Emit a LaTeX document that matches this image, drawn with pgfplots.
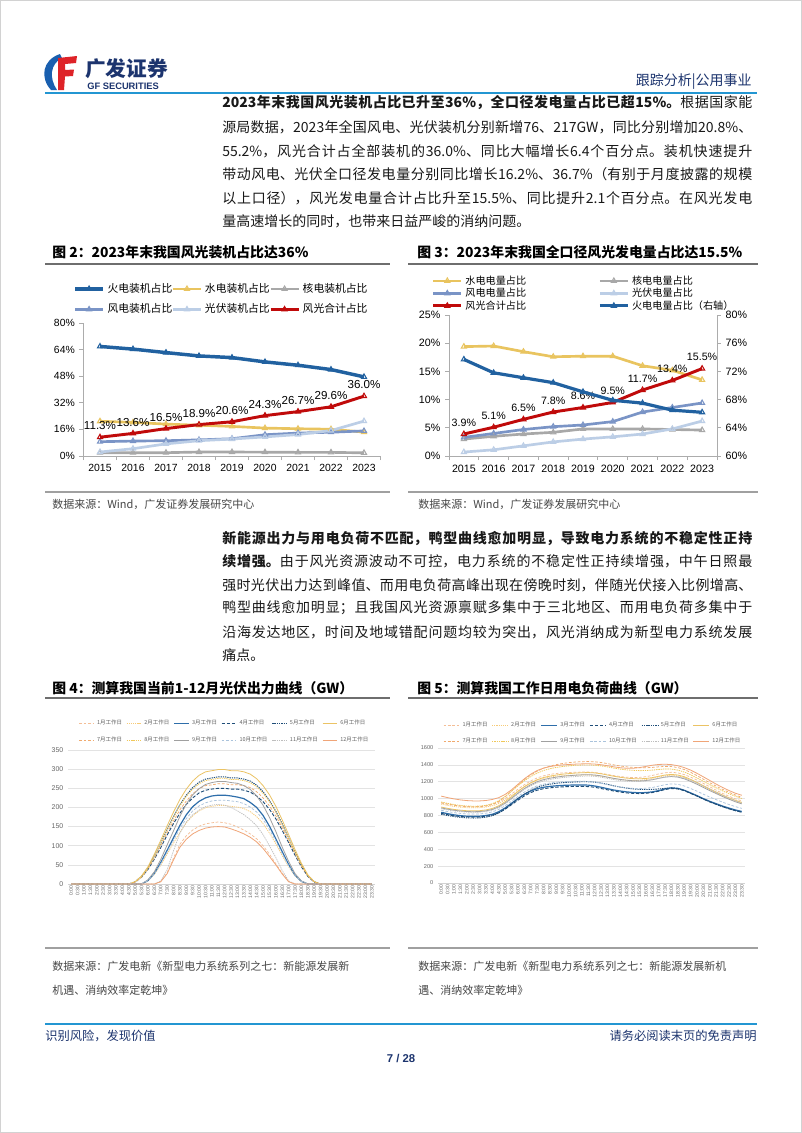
\documentclass[border=0pt]{standalone}
\usepackage{fontspec}
\usepackage{pgfplots}
\usepackage{pgfplotstable}
\pgfplotsset{compat=1.18}
\setmainfont{Noto Sans CJK SC}
\newfontfamily\arial{Liberation Sans}
\XeTeXlinebreaklocale "zh"
\XeTeXlinebreakskip=0pt plus 1.5pt minus 0.2pt

\definecolor{hdblue}{RGB}{35,150,210}
\definecolor{navy}{RGB}{28,52,110}
\definecolor{logored}{RGB}{222,35,40}
\definecolor{logoblue}{RGB}{25,95,175}
\definecolor{cFire}{RGB}{33,97,160}
\definecolor{cHydro}{RGB}{233,196,95}
\definecolor{cNuc}{RGB}{168,168,168}
\definecolor{cWind}{RGB}{122,148,198}
\definecolor{cSolar}{RGB}{188,206,230}
\definecolor{cRed}{RGB}{192,10,10}
\definecolor{txt}{RGB}{25,25,25}
\definecolor{srcgray}{RGB}{70,70,70}
\definecolor{sepgray}{RGB}{160,160,160}
\definecolor{ttlgray}{RGB}{110,110,110}
\definecolor{c1}{RGB}{244,190,150}
\definecolor{c2}{RGB}{247,203,120}
\definecolor{c3}{RGB}{46,110,170}
\definecolor{c4}{RGB}{31,78,121}
\definecolor{c5}{RGB}{31,78,121}
\definecolor{c6}{RGB}{235,195,100}
\definecolor{c7}{RGB}{240,170,110}
\definecolor{c8}{RGB}{240,200,90}
\definecolor{c9}{RGB}{160,160,160}
\definecolor{c10}{RGB}{170,195,220}
\definecolor{c11}{RGB}{190,190,190}
\definecolor{c12}{RGB}{240,165,120}

\pgfplotsset{
  /pgf/number format/assume math mode=true,
  /pgf/number format/1000 sep={},
  mA/.style={color=c1, line width=0.55pt, dash pattern=on 2pt off 1.3pt},
  mB/.style={color=c2, line width=0.55pt, dash pattern=on 0.9pt off 0.7pt},
  mC/.style={color=c3, line width=0.9pt},
  mD/.style={color=c4, line width=0.7pt, dash pattern=on 2.5pt off 1.3pt},
  mE/.style={color=c5, line width=0.7pt, dash pattern=on 1pt off 0.7pt},
  mF/.style={color=c6, line width=0.6pt},
  mG/.style={color=c7, line width=0.55pt, dash pattern=on 2pt off 1.3pt},
  mH/.style={color=c8, line width=0.6pt, dash pattern=on 1pt off 0.7pt},
  mI/.style={color=c9, line width=0.6pt},
  mJ/.style={color=c10, line width=0.55pt, dash pattern=on 2pt off 1.3pt},
  mK/.style={color=c11, line width=0.55pt, dash pattern=on 1pt off 0.7pt},
  mL/.style={color=c12, line width=0.6pt},
  timeticks/.style={xtick={0,...,47}, xticklabels={0:00,0:30,1:00,1:30,2:00,2:30,3:00,3:30,4:00,4:30,5:00,5:30,6:00,6:30,7:00,7:30,8:00,8:30,9:00,9:30,10:00,10:30,11:00,11:30,12:00,12:30,13:00,13:30,14:00,14:30,15:00,15:30,16:00,16:30,17:00,17:30,18:00,18:30,19:00,19:30,20:00,20:30,21:00,21:30,22:00,22:30,23:00,23:30}},
}

\newcommand\bodyfont{\fontsize{10.5pt}{12pt}\selectfont}
\newcommand\jline[1]{\parbox{397.5pt}{\bodyfont\tolerance=10000\hbadness=10000\parfillskip=0pt\relax #1}}

% PV output (GW), rows = months, columns = half hours
\pgfplotstableread{
m t0 t1 t2 t3 t4 t5 t6 t7 t8 t9 t10 t11 t12 t13 t14 t15 t16 t17 t18 t19 t20 t21 t22 t23 t24 t25 t26 t27 t28 t29 t30 t31 t32 t33 t34 t35 t36 t37 t38 t39 t40 t41 t42 t43 t44 t45 t46 t47
m1  0 0 0 0 0  0 0 0 0 0  0 0 0 0  6 29 68 104 126 141 151 157 160 162 160 156 149 141 131 118 100 78 53 28 6  0 0 0 0 0  0 0 0 0 0  0 0 0
m2  0 0 0 0 0  0 0 0 0 0  0 0  8 25 49 78 107 135 160 178 191 199 203 205 205 203 201 197 189 176 158 133 105 74 45 21 6  0 0 0 0 0  0 0 0 0 0  0
m3  0 0 0 0 0  0 0 0 0 0  0 0  9 28 56 88 121 153 181 202 216 225 230 232 232 230 227 223 213 200 179 151 118 84 51 23 7  0 0 0 0 0  0 0 0 0 0  0
m4  0 0 0 0 0  0 0 0 0 0  5 18 38 65 95 128 158 185 208 225 238 245 248 250 250 248 248 245 240 230 215 195 170 140 108 75 45 20 5  0 0 0 0 0  0 0 0 0
m5  0 0 0 0 0  0 0 0 0 0  6 20 42 73 106 143 176 207 232 252 266 274 277 280 280 277 277 274 269 258 241 218 190 157 120 84 50 22 6  0 0 0 0 0  0 0 0 0
m6  0 0 0 0 0  0 0 0 0 0  6 21 45 78 114 152 188 221 248 269 284 293 296 299 299 296 296 293 287 275 257 233 203 167 129 90 54 24 6  0 0 0 0 0  0 0 0 0
m7  0 0 0 0 0  0 0 0 0 0  5 18 39 68 100 134 165 194 217 236 249 257 259 262 262 259 259 257 252 241 225 204 178 147 113 79 47 21 5  0 0 0 0 0  0 0 0 0
m8  0 0 0 0 0  0 0 0 0 0  6 19 41 72 105 141 174 204 229 248 262 270 273 276 276 273 273 270 265 254 237 215 188 155 119 83 50 22 6  0 0 0 0 0  0 0 0 0
m9  0 0 0 0 0  0 0 0 0 0  0 0  11 32 64 102 139 177 209 233 249 260 265 268 268 265 263 257 247 230 206 174 137 96 59 27 8  0 0 0 0 0  0 0 0 0 0  0
m10 0 0 0 0 0  0 0 0 0 0  0 0  9 26 53 83 114 145 171 191 204 212 217 219 219 217 215 210 201 188 169 142 112 79 48 22 7  0 0 0 0 0  0 0 0 0 0  0
m11 0 0 0 0 0  0 0 0 0 0  0 0 0 0  8 37 87 133 162 181 193 202 206 208 206 200 191 181 168 152 129 100 69 35 8  0 0 0 0 0  0 0 0 0 0  0 0 0
m12 0 0 0 0 0  0 0 0 0 0  0 0 0 0  6 27 63 96 117 131 140 146 149 150 149 144 138 131 122 110 93 72 50 26 6  0 0 0 0 0  0 0 0 0 0  0 0 0
}\pvraw
\pgfplotstabletranspose[colnames from=m]\pvdata\pvraw

% Load (GW), rows = months, columns = half hours
\pgfplotstableread{
m t0 t1 t2 t3 t4 t5 t6 t7 t8 t9 t10 t11 t12 t13 t14 t15 t16 t17 t18 t19 t20 t21 t22 t23 t24 t25 t26 t27 t28 t29 t30 t31 t32 t33 t34 t35 t36 t37 t38 t39 t40 t41 t42 t43 t44 t45 t46 t47
m1  950 935 922 913 907 905 907 915 930 958 1000 1055 1112 1165 1210 1245 1270 1287 1298 1305 1310 1313 1315 1315 1310 1300 1287 1273 1262 1254 1250 1252 1260 1275 1293 1307 1312 1305 1285 1255 1220 1180 1140 1100 1062 1028 998 972
m2  935 920 908 899 893 891 893 901 915 942 982 1035 1090 1140 1183 1216 1240 1256 1266 1272 1276 1279 1280 1280 1275 1265 1252 1238 1227 1219 1215 1217 1225 1240 1258 1272 1277 1270 1250 1220 1185 1145 1106 1068 1032 1000 972 948
m3  838 822 808 798 792 790 792 800 815 845 890 945 1000 1050 1090 1118 1135 1145 1152 1157 1160 1162 1162 1160 1150 1135 1118 1102 1090 1080 1073 1070 1072 1080 1095 1115 1128 1122 1100 1068 1035 1000 968 940 912 888 866 848
m4  825 810 797 788 783 781 783 790 805 832 875 928 982 1032 1072 1100 1118 1128 1135 1140 1143 1145 1145 1143 1135 1120 1105 1090 1078 1068 1062 1060 1063 1072 1088 1108 1120 1115 1095 1062 1030 995 962 933 905 880 858 840
m5  815 800 787 778 772 770 772 781 798 830 880 940 1000 1055 1100 1135 1158 1172 1182 1190 1195 1198 1200 1200 1196 1185 1170 1152 1137 1125 1115 1110 1108 1110 1115 1122 1128 1120 1098 1065 1030 995 962 932 905 880 858 838
m6  900 885 872 863 857 855 857 866 884 915 963 1022 1085 1142 1188 1224 1250 1267 1280 1290 1297 1303 1307 1309 1305 1295 1280 1265 1253 1243 1237 1235 1239 1249 1265 1280 1287 1280 1260 1228 1192 1153 1115 1078 1042 1010 980 955
m7  950 935 922 912 905 902 904 913 932 968 1022 1090 1160 1225 1280 1325 1360 1385 1403 1417 1427 1434 1438 1440 1437 1428 1415 1400 1387 1377 1370 1366 1366 1370 1377 1382 1380 1368 1345 1312 1272 1230 1188 1148 1110 1075 1043 1015
m8  960 944 930 920 913 910 912 921 940 975 1025 1088 1152 1212 1262 1302 1333 1355 1370 1381 1389 1395 1398 1399 1396 1388 1376 1362 1350 1341 1335 1332 1333 1338 1346 1352 1350 1338 1315 1283 1245 1205 1165 1127 1092 1058 1028 1002
m9  890 875 862 853 847 845 847 855 872 902 948 1005 1065 1120 1165 1200 1225 1242 1255 1265 1272 1278 1282 1284 1280 1270 1255 1240 1228 1218 1212 1210 1214 1224 1240 1255 1262 1255 1235 1205 1170 1132 1095 1060 1025 993 963 938
m10 862 847 834 825 819 817 819 827 843 872 915 968 1025 1078 1120 1152 1172 1185 1194 1200 1204 1206 1206 1204 1196 1182 1166 1150 1138 1128 1122 1120 1123 1132 1148 1165 1175 1170 1150 1120 1088 1052 1018 988 958 930 905 885
m11 880 866 854 845 840 838 840 848 864 893 938 995 1054 1108 1152 1186 1210 1227 1240 1250 1257 1262 1266 1268 1264 1254 1240 1226 1215 1207 1203 1203 1210 1224 1242 1258 1266 1262 1245 1218 1185 1148 1110 1074 1038 1005 975 948
m12 1030 1012 997 985 977 973 973 978 990 1012 1050 1105 1170 1235 1290 1333 1362 1380 1392 1400 1405 1409 1412 1413 1410 1402 1390 1377 1366 1360 1360 1368 1382 1396 1405 1408 1403 1390 1368 1338 1300 1258 1215 1172 1132 1096 1064 1040
}\ldraw
\pgfplotstabletranspose[colnames from=m]\lddata\ldraw

\begin{document}
\begin{tikzpicture}
\begin{scope}[x=0.75pt,y=-0.75pt]
\path[use as bounding box] (0,0) rectangle (802,1133);
\fill[white] (0,0) rectangle (802,1133);
\draw[gray!35, line width=0.5pt] (0.4,0.4) rectangle (801.6,1132.6);

% ---- header
\fill[logoblue] (51,90) .. controls (40,78) and (42,60) .. (60,54) -- (62,58) .. controls (50,64) and (49,78) .. (57,90) -- cycle;
\fill[logored] (58,58) -- (77,56) -- (76,63) -- (65,64) -- (65,70) -- (74,69.5) -- (73,76) -- (65,76.5) -- (64,90) -- (58,90) -- cycle;
\node[anchor=west, inner sep=0, text=navy, font=\fontsize{15.5pt}{17pt}\selectfont\bfseries] at (85,69) {广发证券};
\node[anchor=west, inner sep=0, text=navy, font=\arial\bfseries\fontsize{7pt}{8pt}\selectfont] at (87,86.5) {GF SECURITIES};
\node[anchor=east, inner sep=0, text=navy, font=\fontsize{10.5pt}{12pt}\selectfont] at (752,82) {跟踪分析|公用事业};
\draw[hdblue, line width=1.8pt] (45,93) -- (757,93);

% ---- paragraph 1
\begin{scope}[every node/.style={anchor=west, inner sep=0, text=txt}]
\node at (222,103) {\jline{{\bfseries 2023年末我国风光装机占比已升至36\%，全口径发电量占比已超15\%。}根据国家能}};
\node at (222,127) {\jline{源局数据，2023年全国风电、光伏装机分别新增76、217GW，同比分别增加20.8\%、}};
\node at (222,151) {\jline{55.2\%，风光合计占全部装机的36.0\%、同比大幅增长6.4个百分点。装机快速提升}};
\node at (222,174) {\jline{带动风电、光伏全口径发电量分别同比增长16.2\%、36.7\%（有别于月度披露的规模}};
\node at (222,198) {\jline{以上口径），风光发电量合计占比升至15.5\%、同比提升2.1个百分点。在风光发电}};
\node[font=\bodyfont] at (222,221) {量高速增长的同时，也带来日益严峻的消纳问题。};
% ---- paragraph 2
\node at (222,538) {\jline{\bfseries 新能源出力与用电负荷不匹配，鸭型曲线愈加明显，导致电力系统的不稳定性正持}};
\node at (222,561) {\jline{{\bfseries 续增强。}由于风光资源波动不可控，电力系统的不稳定性正持续增强，中午日照最}};
\node at (222,585) {\jline{强时光伏出力达到峰值、而用电负荷高峰出现在傍晚时刻，伴随光伏接入比例增高、}};
\node at (222,608) {\jline{鸭型曲线愈加明显；且我国风光资源禀赋多集中于三北地区、而用电负荷多集中于}};
\node at (222,632) {\jline{沿海发达地区，时间及地域错配问题均较为突出，风光消纳成为新型电力系统发展}};
\node[font=\bodyfont] at (222,655) {痛点。};
\end{scope}

% ---- figure titles and rules
\begin{scope}[every node/.style={anchor=west, inner sep=0, text=black, font=\fontsize{10.4pt}{12pt}\selectfont\bfseries}]
\node at (52,252) {图 2：2023年末我国风光装机占比达36\%};
\node at (417,252) {图 3：2023年末我国全口径风光发电量占比达15.5\%};
\node at (52,688) {图 4：测算我国当前1-12月光伏出力曲线（GW）};
\node at (417,688) {图 5：测算我国工作日用电负荷曲线（GW）};
\end{scope}
\draw[ttlgray, line width=1.1pt] (45,264) -- (390,264);
\draw[ttlgray, line width=1.1pt] (408,264) -- (758,264);
\draw[ttlgray, line width=1.1pt] (45,698) -- (390,698);
\draw[ttlgray, line width=1.1pt] (408,698) -- (758,698);
\draw[sepgray, line width=1.5pt] (45,492) -- (390,492);
\draw[sepgray, line width=1.5pt] (408,492) -- (758,492);
\draw[sepgray, line width=1.5pt] (45,948) -- (390,948);
\draw[sepgray, line width=1.5pt] (408,948) -- (758,948);
\begin{scope}[every node/.style={anchor=west, inner sep=0, text=srcgray, font=\fontsize{8.25pt}{10pt}\selectfont}]
\node at (52,504) {数据来源：Wind，广发证券发展研究中心};
\node at (418,504) {数据来源：Wind，广发证券发展研究中心};
\node at (52,966) {数据来源：广发电新《新型电力系统系列之七：新能源发展新};
\node at (52,990) {机遇、消纳效率定乾坤》};
\node at (418,966) {数据来源：广发电新《新型电力系统系列之七：新能源发展新机};
\node at (418,990) {遇、消纳效率定乾坤》};
\end{scope}

% ---- footer
\draw[hdblue, line width=1.5pt] (45,1024) -- (757,1024);
\node[anchor=west, inner sep=0, text=navy, font=\fontsize{9.2pt}{11pt}\selectfont] at (45,1036) {识别风险，发现价值};
\node[anchor=east, inner sep=0, text=navy, font=\fontsize{9.2pt}{11pt}\selectfont] at (757,1036) {请务必阅读末页的免责声明};
\node[inner sep=0, text=navy, font=\arial\bfseries\fontsize{8.5pt}{10pt}\selectfont] at (401,1058) {7 / 28};
\end{scope}

% ================= Figure 2
\begin{axis}[
  at={(62.625pt,-342pt)}, anchor=south west,
  scale only axis, width=222.75pt, height=99.75pt,
  xmin=-0.5, xmax=8.5, ymin=0, ymax=80, clip=false,
  axis x line*=bottom, axis y line*=left,
  axis line style={draw=gray!65, line width=0.6pt},
  xtick={0,...,8}, xticklabels={2015,2016,2017,2018,2019,2020,2021,2022,2023},
  xtick style={draw=none},
  extra x ticks={-0.5,0.5,1.5,2.5,3.5,4.5,5.5,6.5,7.5,8.5},
  extra x tick labels={},
  extra x tick style={xtick style={draw=gray!65, line width=0.6pt}},
  ytick={0,16,32,48,64,80},
  yticklabel={\pgfmathprintnumber{\tick}\%},
  ytick style={draw=gray!65, line width=0.6pt},
  tick align=outside, major tick length=3pt,
  tick label style={font=\arial\fontsize{7.8pt}{9pt}\selectfont, text=black},
  legend columns=3, legend cell align=left,
  legend image code/.code={\draw[mark repeat=2,mark phase=2,#1] plot coordinates {(0pt,0pt) (10.5pt,0pt) (21pt,0pt)};},
  legend style={draw=none, fill=none, at={(axis description cs:-0.035,1.32)}, anchor=north west, inner sep=0pt, font=\fontsize{8.1pt}{9pt}\selectfont, row sep=3pt, /tikz/every even column/.append style={column sep=-2.5pt}},
  every axis plot/.append style={mark=triangle, mark size=2.2pt, mark options={solid, fill=white, line width=0.8pt}},
]
\addplot[cFire, line width=2.6pt] coordinates {(0,65.9) (1,64.3) (2,62.2) (3,60.2) (4,59.2) (5,56.6) (6,54.6) (7,52.0) (8,47.6)};
\addlegendentry{火电装机占比}
\addplot[cHydro, line width=2pt] coordinates {(0,20.9) (1,20.2) (2,19.2) (3,18.5) (4,17.8) (5,16.8) (6,16.4) (7,16.1) (8,14.4)};
\addlegendentry{水电装机占比}
\addplot[cNuc, line width=2pt] coordinates {(0,2.0) (1,2.0) (2,2.0) (3,2.4) (4,2.4) (5,2.3) (6,2.2) (7,2.2) (8,1.9)};
\addlegendentry{核电装机占比}
\addplot[cWind, line width=2pt] coordinates {(0,8.6) (1,9.0) (2,9.2) (3,9.7) (4,10.4) (5,12.8) (6,13.8) (7,14.3) (8,15.1)};
\addlegendentry{风电装机占比}
\addplot[cSolar, line width=2pt] coordinates {(0,2.4) (1,4.4) (2,7.3) (3,9.2) (4,10.2) (5,11.5) (6,12.9) (7,15.3) (8,21.0)};
\addlegendentry{光伏装机占比}
\addplot[cRed, line width=2.2pt, point meta=y,
  nodes near coords={\pgfmathprintnumber[fixed,fixed zerofill,precision=1]{\pgfplotspointmeta}\%},
  every node near coord/.append style={font=\arial\fontsize{8.7pt}{10pt}\selectfont, text=black, anchor=south, inner sep=0pt, yshift=5pt}]
  coordinates {(0,11.3) (1,13.6) (2,16.5) (3,18.9) (4,20.6) (5,24.3) (6,26.7) (7,29.6) (8,36.0)};
\addlegendentry{风光合计占比}
\end{axis}

% ================= Figure 3 (left axis)
\begin{axis}[
  at={(336.75pt,-342pt)}, anchor=south west,
  scale only axis, width=201pt, height=105.75pt,
  xmin=-0.5, xmax=8.5, ymin=0, ymax=25, clip=false,
  axis x line*=bottom, axis y line*=left,
  axis line style={draw=gray!65, line width=0.6pt},
  xtick={0,...,8}, xticklabels={2015,2016,2017,2018,2019,2020,2021,2022,2023},
  xtick style={draw=none},
  extra x ticks={-0.5,0.5,1.5,2.5,3.5,4.5,5.5,6.5,7.5,8.5},
  extra x tick labels={},
  extra x tick style={xtick style={draw=gray!65, line width=0.6pt}},
  ytick={0,5,10,15,20,25},
  yticklabel={\pgfmathprintnumber{\tick}\%},
  ytick style={draw=gray!65, line width=0.6pt},
  tick align=outside, major tick length=3pt,
  tick label style={font=\arial\fontsize{8pt}{9pt}\selectfont, text=black},
  legend columns=2, legend cell align=left,
  legend image code/.code={\draw[mark repeat=2,mark phase=2,#1] plot coordinates {(0pt,0pt) (10.5pt,0pt) (21pt,0pt)};},
  legend style={draw=none, fill=none, at={(axis description cs:-0.065,1.30)}, anchor=north west, inner sep=0pt, font=\fontsize{7.6pt}{8pt}\selectfont, row sep=-2.6pt, /tikz/every even column/.append style={column sep=52pt}},
  every axis plot/.append style={mark=triangle, mark size=2.2pt, mark options={solid, fill=white, line width=0.8pt}},
]
\addplot[cHydro, line width=2pt] coordinates {(0,19.4) (1,19.5) (2,18.5) (3,17.6) (4,17.7) (5,17.7) (6,16.0) (7,15.2) (8,13.5)};
\addlegendentry{水电电量占比}
\addplot[cNuc, line width=2pt] coordinates {(0,3.0) (1,3.5) (2,3.9) (3,4.2) (4,4.8) (5,4.8) (6,4.8) (7,4.7) (8,4.6)};
\addlegendentry{核电电量占比}
\addplot[cWind, line width=2pt] coordinates {(0,3.3) (1,4.0) (2,4.7) (3,5.2) (4,5.5) (5,6.1) (6,7.8) (7,8.6) (8,9.4)};
\addlegendentry{风电电量占比}
\addplot[cSolar, line width=2pt] coordinates {(0,0.7) (1,1.1) (2,1.8) (3,2.5) (4,3.0) (5,3.4) (6,3.9) (7,4.8) (8,6.2)};
\addlegendentry{光伏电量占比}
\addplot[cRed, line width=2.2pt, point meta=y,
  nodes near coords={\pgfmathprintnumber[fixed,fixed zerofill,precision=1]{\pgfplotspointmeta}\%},
  every node near coord/.append style={font=\arial\fontsize{8pt}{9pt}\selectfont, text=black, anchor=south, inner sep=0pt, yshift=5.5pt}]
  coordinates {(0,3.9) (1,5.1) (2,6.5) (3,7.8) (4,8.6) (5,9.5) (6,11.7) (7,13.4) (8,15.5)};
\addlegendentry{风光合计占比}
\addlegendimage{cFire, line width=2.4pt, mark=triangle, mark size=2.2pt, mark options={solid, fill=white, line width=0.8pt}}
\addlegendentry{火电电量占比（右轴）}
\end{axis}
% Figure 3 right axis
\begin{axis}[
  at={(336.75pt,-342pt)}, anchor=south west,
  scale only axis, width=201pt, height=105.75pt,
  xmin=-0.5, xmax=8.5, ymin=60, ymax=80, clip=false,
  axis x line=none, axis y line*=right,
  axis line style={draw=gray!65, line width=0.6pt},
  ytick={60,64,68,72,76,80},
  yticklabel={\pgfmathprintnumber{\tick}\%},
  ytick style={draw=gray!65, line width=0.6pt},
  tick align=outside, major tick length=3pt,
  tick label style={font=\arial\fontsize{8pt}{9pt}\selectfont, text=black},
]
\addplot[cFire, line width=2.4pt, mark=triangle, mark size=2.2pt, mark options={solid, fill=white, line width=0.8pt}]
  coordinates {(0,73.7) (1,71.8) (2,71.1) (3,70.4) (4,69.1) (5,67.9) (6,67.5) (7,66.5) (8,66.2)};
\end{axis}

% ================= Figure 4
\begin{axis}[
  at={(51pt,-663pt)}, anchor=south west,
  scale only axis, width=230.25pt, height=100.5pt,
  xmin=-0.5, xmax=47.5, ymin=0, ymax=350,
  axis x line*=bottom, axis y line*=left,
  x axis line style={draw=gray!35, line width=0.5pt},
  y axis line style={draw=none},
  ytick={0,50,...,350}, ymajorgrids, grid style={draw=gray!22, line width=0.4pt},
  timeticks, tick style={draw=none},
  x tick label style={rotate=90, anchor=east, font=\arial\fontsize{3.8pt}{4pt}\selectfont, text=gray!80!black, inner sep=1pt},
  y tick label style={font=\arial\fontsize{5.2pt}{6pt}\selectfont, text=gray!80!black},
  legend columns=6, legend cell align=left,
  legend image code/.code={\draw[#1] (0pt,0pt) -- (11pt,0pt);},
  legend style={draw=none, fill=none, at={(axis description cs:0.035,1.245)}, anchor=north west, inner sep=0pt, font=\fontsize{4.1pt}{5pt}\selectfont, text=gray!75!black, row sep=4pt, /tikz/every even column/.append style={column sep=1.2pt}},
  no markers,
]
\addplot[mA] table[x expr=\coordindex, y=m1] {\pvdata}; \addlegendentry{1月工作日}
\addplot[mB] table[x expr=\coordindex, y=m2] {\pvdata}; \addlegendentry{2月工作日}
\addplot[mC] table[x expr=\coordindex, y=m3] {\pvdata}; \addlegendentry{3月工作日}
\addplot[mD] table[x expr=\coordindex, y=m4] {\pvdata}; \addlegendentry{4月工作日}
\addplot[mE] table[x expr=\coordindex, y=m5] {\pvdata}; \addlegendentry{5月工作日}
\addplot[mF] table[x expr=\coordindex, y=m6] {\pvdata}; \addlegendentry{6月工作日}
\addplot[mG] table[x expr=\coordindex, y=m7] {\pvdata}; \addlegendentry{7月工作日}
\addplot[mH] table[x expr=\coordindex, y=m8] {\pvdata}; \addlegendentry{8月工作日}
\addplot[mI] table[x expr=\coordindex, y=m9] {\pvdata}; \addlegendentry{9月工作日}
\addplot[mJ] table[x expr=\coordindex, y=m10] {\pvdata}; \addlegendentry{10月工作日}
\addplot[mK] table[x expr=\coordindex, y=m11] {\pvdata}; \addlegendentry{11月工作日}
\addplot[mL] table[x expr=\coordindex, y=m12] {\pvdata}; \addlegendentry{12月工作日}
\end{axis}

% ================= Figure 5
\begin{axis}[
  at={(328.5pt,-662.25pt)}, anchor=south west,
  scale only axis, width=230.25pt, height=101.25pt,
  xmin=-0.5, xmax=47.5, ymin=0, ymax=1600,
  axis x line*=bottom, axis y line*=left,
  x axis line style={draw=gray!35, line width=0.5pt},
  y axis line style={draw=none},
  ytick={0,200,...,1600}, ymajorgrids, grid style={draw=gray!22, line width=0.4pt},
  timeticks, tick style={draw=none},
  x tick label style={rotate=90, anchor=east, font=\arial\fontsize{3.8pt}{4pt}\selectfont, text=gray!80!black, inner sep=1pt},
  y tick label style={font=\arial\fontsize{4.2pt}{5pt}\selectfont, text=gray!80!black},
  legend columns=6, legend cell align=left,
  legend image code/.code={\draw[#1] (0pt,0pt) -- (12pt,0pt);},
  legend style={draw=none, fill=none, at={(axis description cs:0.016,1.215)}, anchor=north west, inner sep=0pt, font=\fontsize{4.1pt}{5pt}\selectfont, text=gray!75!black, row sep=3pt, /tikz/every even column/.append style={column sep=1.2pt}},
  no markers,
]
\addplot[mA] table[x expr=\coordindex, y=m1] {\lddata}; \addlegendentry{1月工作日}
\addplot[mB] table[x expr=\coordindex, y=m2] {\lddata}; \addlegendentry{2月工作日}
\addplot[mC] table[x expr=\coordindex, y=m3] {\lddata}; \addlegendentry{3月工作日}
\addplot[mD] table[x expr=\coordindex, y=m4] {\lddata}; \addlegendentry{4月工作日}
\addplot[mE] table[x expr=\coordindex, y=m5] {\lddata}; \addlegendentry{5月工作日}
\addplot[mF] table[x expr=\coordindex, y=m6] {\lddata}; \addlegendentry{6月工作日}
\addplot[mG] table[x expr=\coordindex, y=m7] {\lddata}; \addlegendentry{7月工作日}
\addplot[mH] table[x expr=\coordindex, y=m8] {\lddata}; \addlegendentry{8月工作日}
\addplot[mI] table[x expr=\coordindex, y=m9] {\lddata}; \addlegendentry{9月工作日}
\addplot[mJ] table[x expr=\coordindex, y=m10] {\lddata}; \addlegendentry{10月工作日}
\addplot[mK] table[x expr=\coordindex, y=m11] {\lddata}; \addlegendentry{11月工作日}
\addplot[mL] table[x expr=\coordindex, y=m12] {\lddata}; \addlegendentry{12月工作日}
\end{axis}
\end{tikzpicture}
\end{document}
